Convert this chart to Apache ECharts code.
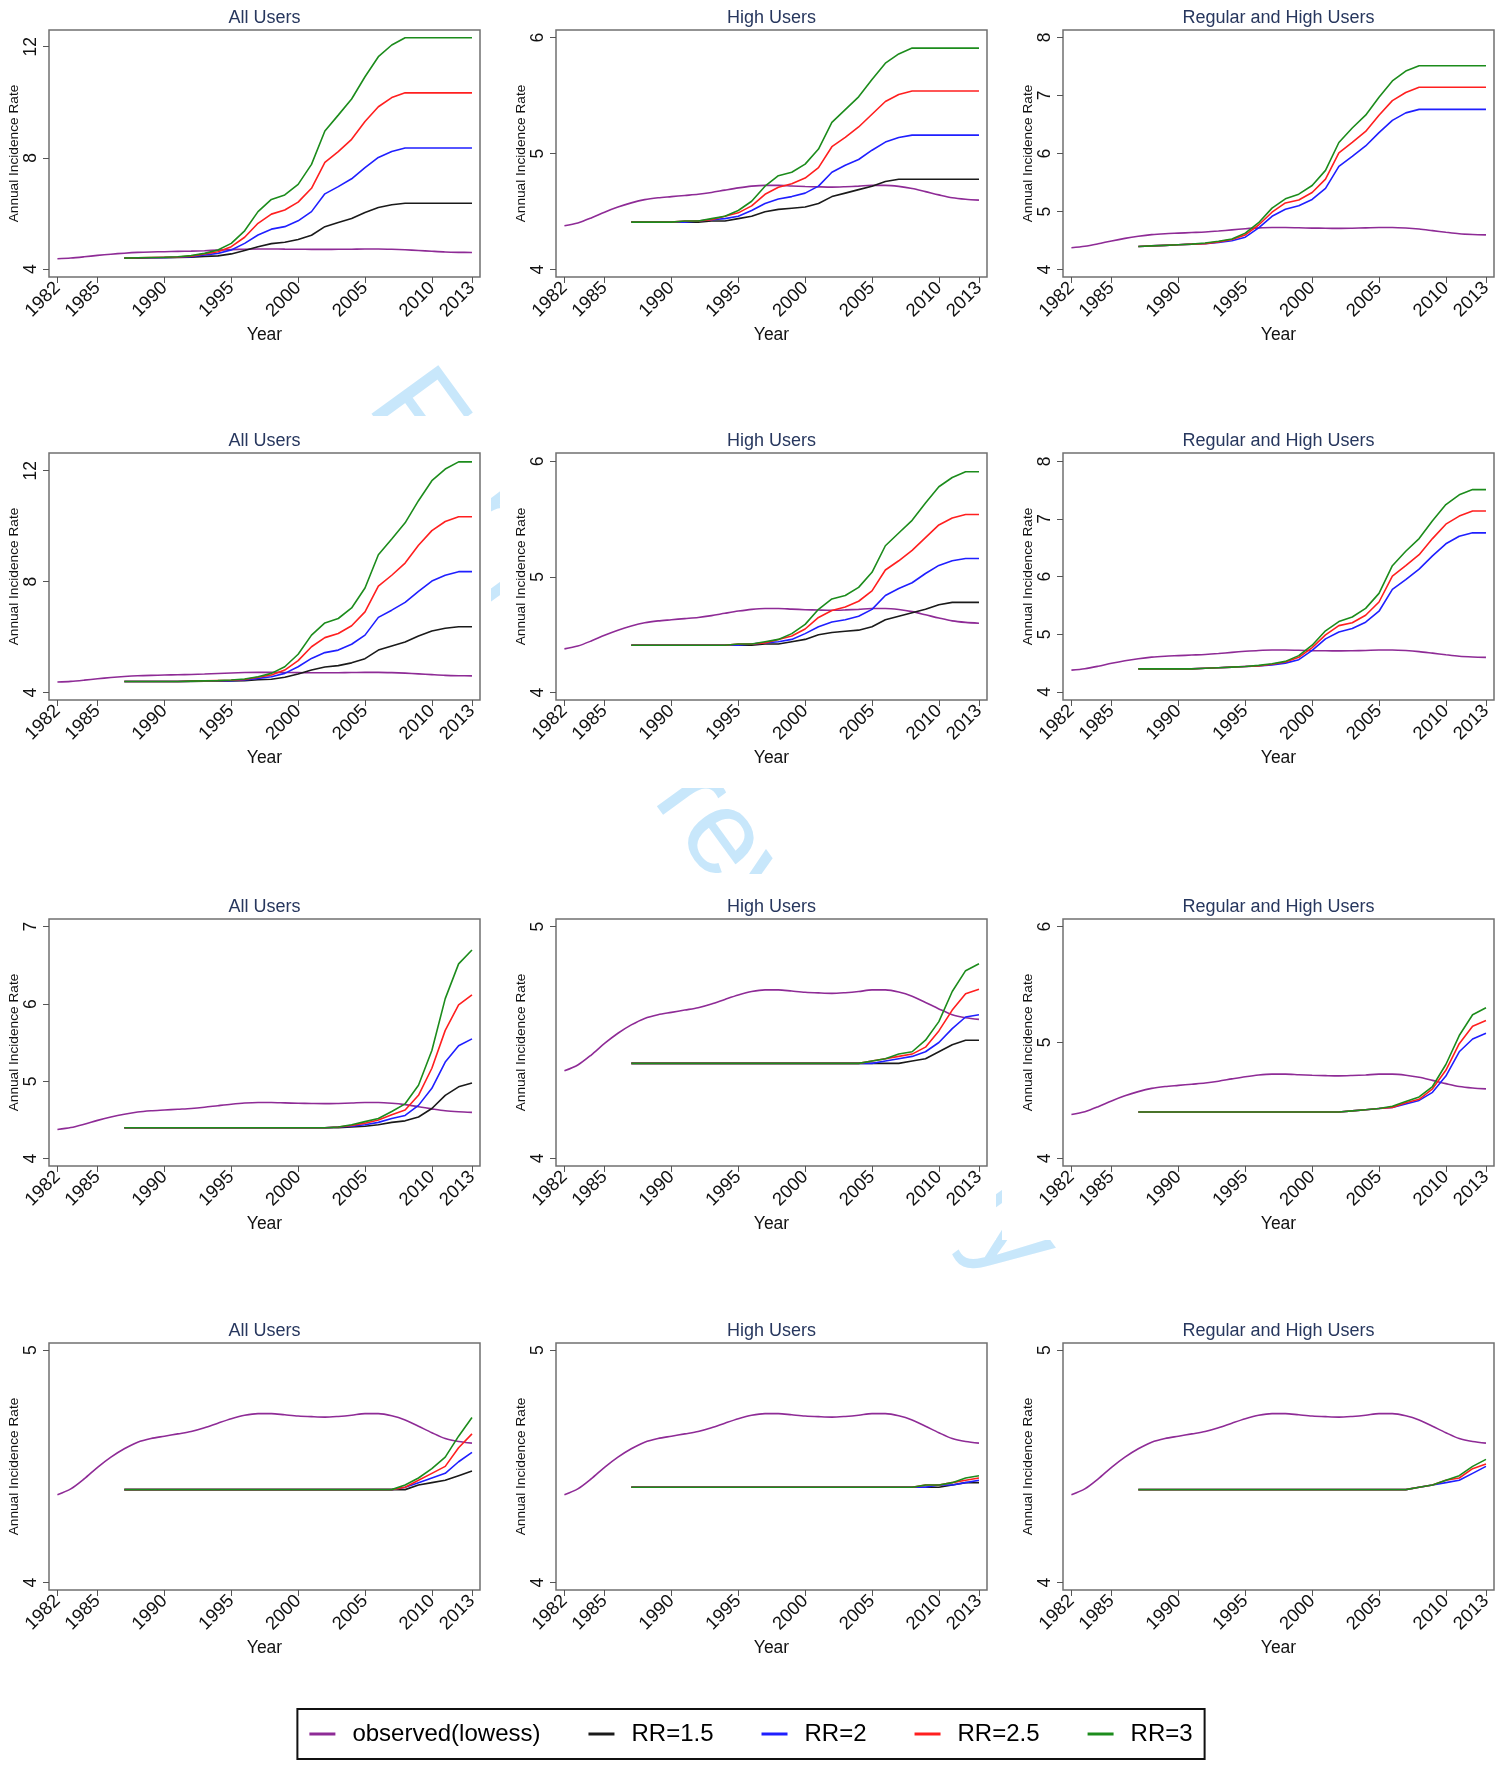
<!DOCTYPE html>
<html>
<head>
<meta charset="utf-8">
<script src="https://cdn.jsdelivr.net/npm/echarts@6/dist/echarts.min.js"></script>
<style>
  html, body { margin: 0; padding: 0; background: #fff; }
  #chart { width: 1502px; height: 1765px; }
</style>
</head>
<body>
<div id="chart"></div>
<script>
// years
const obsYears = [1982,1983,1984,1985,1986,1987,1988,1989,1990,1991,1992,1993,1994,1995,1996,1997,1998,1999,2000,2001,2002,2003,2004,2005,2006,2007,2008,2009,2010,2011,2012,2013];
const rrYears = [1987,1988,1989,1990,1991,1992,1993,1994,1995,1996,1997,1998,1999,2000,2001,2002,2003,2004,2005,2006,2007,2008,2009,2010,2011,2012,2013];
const xTickValues = [1982,1985,1990,1995,2000,2005,2010,2013];

// observed (lowess), same curve in every panel
const observed = [4.378,4.403,4.446,4.496,4.54,4.576,4.604,4.62,4.63,4.64,4.65,4.666,4.686,4.705,4.72,4.727,4.727,4.722,4.717,4.714,4.712,4.715,4.72,4.727,4.727,4.718,4.70,4.673,4.645,4.62,4.607,4.60];

// row 1
const r1All15 = [4.40,4.40,4.41,4.41,4.42,4.43,4.46,4.48,4.55,4.67,4.81,4.92,4.97,5.07,5.22,5.53,5.68,5.82,6.04,6.22,6.32,6.37,6.37,6.37,6.37,6.37,6.37];
const r1All2 = [4.40,4.41,4.41,4.42,4.43,4.45,4.51,4.57,4.69,4.93,5.23,5.44,5.53,5.74,6.07,6.71,6.97,7.25,7.65,8.02,8.23,8.36,8.36,8.36,8.36,8.36,8.36];
const r1All25 = [4.40,4.41,4.42,4.43,4.44,4.47,4.55,4.63,4.81,5.15,5.65,5.98,6.13,6.41,6.91,7.84,8.23,8.67,9.31,9.84,10.17,10.34,10.34,10.34,10.34,10.34,10.34];
const r1All3 = [4.40,4.41,4.42,4.43,4.45,4.49,4.57,4.69,4.93,5.38,6.07,6.51,6.67,7.05,7.77,8.97,9.54,10.12,10.92,11.64,12.06,12.32,12.32,12.32,12.32,12.32,12.32];
const r1High15 = [4.41,4.41,4.41,4.41,4.41,4.41,4.42,4.42,4.44,4.46,4.50,4.52,4.53,4.54,4.57,4.63,4.66,4.69,4.72,4.76,4.78,4.78,4.78,4.78,4.78,4.78,4.78];
const r1High2 = [4.41,4.41,4.41,4.41,4.41,4.42,4.43,4.44,4.46,4.51,4.57,4.61,4.63,4.66,4.72,4.84,4.90,4.95,5.03,5.10,5.14,5.16,5.16,5.16,5.16,5.16,5.16];
const r1High25 = [4.41,4.41,4.41,4.41,4.42,4.42,4.43,4.46,4.49,4.55,4.65,4.71,4.74,4.79,4.88,5.06,5.14,5.23,5.34,5.45,5.51,5.54,5.54,5.54,5.54,5.54,5.54];
const r1High3 = [4.41,4.41,4.41,4.41,4.42,4.42,4.44,4.46,4.51,4.59,4.72,4.81,4.84,4.91,5.04,5.27,5.38,5.49,5.64,5.78,5.86,5.91,5.91,5.91,5.91,5.91,5.91];
const r1Reg2 = [4.40,4.41,4.42,4.43,4.44,4.45,4.47,4.50,4.56,4.72,4.92,5.04,5.10,5.21,5.40,5.78,5.95,6.13,6.36,6.57,6.70,6.76,6.76,6.76,6.76,6.76,6.76];
const r1Reg25 = [4.40,4.41,4.42,4.43,4.44,4.45,4.48,4.52,4.60,4.77,4.99,5.15,5.20,5.33,5.56,6.01,6.19,6.38,6.66,6.91,7.05,7.14,7.14,7.14,7.14,7.14,7.14];
const r1Reg3 = [4.40,4.41,4.42,4.43,4.44,4.46,4.49,4.53,4.63,4.81,5.06,5.22,5.30,5.45,5.71,6.19,6.44,6.66,6.97,7.25,7.42,7.51,7.51,7.51,7.51,7.51,7.51];

// row 2
const r2All15 = [4.40,4.40,4.40,4.40,4.40,4.40,4.41,4.41,4.42,4.43,4.46,4.48,4.55,4.67,4.81,4.92,4.97,5.07,5.22,5.53,5.68,5.82,6.04,6.22,6.32,6.37,6.37];
const r2All2 = [4.40,4.40,4.40,4.40,4.40,4.41,4.41,4.42,4.43,4.45,4.51,4.57,4.69,4.93,5.23,5.44,5.53,5.74,6.07,6.71,6.97,7.25,7.65,8.02,8.23,8.36,8.36];
const r2All25 = [4.40,4.40,4.40,4.40,4.40,4.41,4.42,4.43,4.44,4.47,4.55,4.63,4.81,5.15,5.65,5.98,6.13,6.41,6.91,7.84,8.23,8.67,9.31,9.84,10.17,10.34,10.34];
const r2All3 = [4.40,4.40,4.40,4.40,4.40,4.41,4.42,4.43,4.45,4.49,4.57,4.69,4.93,5.38,6.07,6.51,6.67,7.05,7.77,8.97,9.54,10.12,10.92,11.64,12.06,12.32,12.32];
const r2High15 = [4.41,4.41,4.41,4.41,4.41,4.41,4.41,4.41,4.41,4.41,4.42,4.42,4.44,4.46,4.50,4.52,4.53,4.54,4.57,4.63,4.66,4.69,4.72,4.76,4.78,4.78,4.78];
const r2High2 = [4.41,4.41,4.41,4.41,4.41,4.41,4.41,4.41,4.41,4.42,4.43,4.44,4.46,4.51,4.57,4.61,4.63,4.66,4.72,4.84,4.90,4.95,5.03,5.10,5.14,5.16,5.16];
const r2High25 = [4.41,4.41,4.41,4.41,4.41,4.41,4.41,4.41,4.42,4.42,4.43,4.46,4.49,4.55,4.65,4.71,4.74,4.79,4.88,5.06,5.14,5.23,5.34,5.45,5.51,5.54,5.54];
const r2High3 = [4.41,4.41,4.41,4.41,4.41,4.41,4.41,4.41,4.42,4.42,4.44,4.46,4.51,4.59,4.72,4.81,4.84,4.91,5.04,5.27,5.38,5.49,5.64,5.78,5.86,5.91,5.91];
const r2Reg2 = [4.40,4.40,4.40,4.40,4.40,4.41,4.42,4.43,4.44,4.45,4.47,4.50,4.56,4.72,4.92,5.04,5.10,5.21,5.40,5.78,5.95,6.13,6.36,6.57,6.70,6.76,6.76];
const r2Reg25 = [4.40,4.40,4.40,4.40,4.40,4.41,4.42,4.43,4.44,4.45,4.48,4.52,4.60,4.77,4.99,5.15,5.20,5.33,5.56,6.01,6.19,6.38,6.66,6.91,7.05,7.14,7.14];
const r2Reg3 = [4.40,4.40,4.40,4.40,4.40,4.41,4.42,4.43,4.44,4.46,4.49,4.53,4.63,4.81,5.06,5.22,5.30,5.45,5.71,6.19,6.44,6.66,6.97,7.25,7.42,7.51,7.51];

// row 3
const r3All15 = [4.4,4.4,4.4,4.4,4.4,4.4,4.4,4.4,4.4,4.4,4.4,4.4,4.4,4.4,4.4,4.4,4.4,4.41,4.42,4.44,4.47,4.49,4.54,4.65,4.82,4.93,4.98];
const r3All2 = [4.4,4.4,4.4,4.4,4.4,4.4,4.4,4.4,4.4,4.4,4.4,4.4,4.4,4.4,4.4,4.4,4.41,4.42,4.44,4.47,4.52,4.56,4.69,4.91,5.25,5.46,5.55];
const r3All25 = [4.4,4.4,4.4,4.4,4.4,4.4,4.4,4.4,4.4,4.4,4.4,4.4,4.4,4.4,4.4,4.4,4.41,4.43,4.46,4.50,4.57,4.63,4.82,5.17,5.66,5.99,6.12];
const r3All3 = [4.4,4.4,4.4,4.4,4.4,4.4,4.4,4.4,4.4,4.4,4.4,4.4,4.4,4.4,4.4,4.4,4.41,4.44,4.48,4.52,4.61,4.71,4.95,5.40,6.07,6.52,6.70];
const r3High15 = [4.41,4.41,4.41,4.41,4.41,4.41,4.41,4.41,4.41,4.41,4.41,4.41,4.41,4.41,4.41,4.41,4.41,4.41,4.41,4.41,4.41,4.42,4.43,4.46,4.49,4.51,4.51];
const r3High2 = [4.41,4.41,4.41,4.41,4.41,4.41,4.41,4.41,4.41,4.41,4.41,4.41,4.41,4.41,4.41,4.41,4.41,4.41,4.41,4.42,4.43,4.44,4.46,4.50,4.56,4.61,4.62];
const r3High25 = [4.41,4.41,4.41,4.41,4.41,4.41,4.41,4.41,4.41,4.41,4.41,4.41,4.41,4.41,4.41,4.41,4.41,4.41,4.42,4.43,4.44,4.45,4.48,4.55,4.64,4.71,4.73];
const r3High3 = [4.41,4.41,4.41,4.41,4.41,4.41,4.41,4.41,4.41,4.41,4.41,4.41,4.41,4.41,4.41,4.41,4.41,4.41,4.42,4.43,4.45,4.46,4.51,4.59,4.72,4.81,4.84];
const r3Reg2 = [4.4,4.4,4.4,4.4,4.4,4.4,4.4,4.4,4.4,4.4,4.4,4.4,4.4,4.4,4.4,4.4,4.41,4.42,4.43,4.44,4.47,4.50,4.57,4.71,4.92,5.03,5.08];
const r3Reg25 = [4.4,4.4,4.4,4.4,4.4,4.4,4.4,4.4,4.4,4.4,4.4,4.4,4.4,4.4,4.4,4.4,4.41,4.42,4.43,4.44,4.48,4.51,4.60,4.76,4.99,5.14,5.19];
const r3Reg3 = [4.4,4.4,4.4,4.4,4.4,4.4,4.4,4.4,4.4,4.4,4.4,4.4,4.4,4.4,4.4,4.4,4.41,4.42,4.43,4.45,4.49,4.53,4.62,4.81,5.06,5.24,5.30];

// row 4
const r4All15 = [4.4,4.4,4.4,4.4,4.4,4.4,4.4,4.4,4.4,4.4,4.4,4.4,4.4,4.4,4.4,4.4,4.4,4.4,4.4,4.4,4.4,4.40,4.42,4.43,4.44,4.46,4.48];
const r4All2 = [4.4,4.4,4.4,4.4,4.4,4.4,4.4,4.4,4.4,4.4,4.4,4.4,4.4,4.4,4.4,4.4,4.4,4.4,4.4,4.4,4.4,4.41,4.43,4.45,4.47,4.52,4.56];
const r4All25 = [4.4,4.4,4.4,4.4,4.4,4.4,4.4,4.4,4.4,4.4,4.4,4.4,4.4,4.4,4.4,4.4,4.4,4.4,4.4,4.4,4.4,4.41,4.44,4.47,4.50,4.58,4.64];
const r4All3 = [4.4,4.4,4.4,4.4,4.4,4.4,4.4,4.4,4.4,4.4,4.4,4.4,4.4,4.4,4.4,4.4,4.4,4.4,4.4,4.4,4.4,4.42,4.45,4.49,4.54,4.63,4.71];
const r4High15 = [4.41,4.41,4.41,4.41,4.41,4.41,4.41,4.41,4.41,4.41,4.41,4.41,4.41,4.41,4.41,4.41,4.41,4.41,4.41,4.41,4.41,4.41,4.41,4.41,4.42,4.43,4.43];
const r4High2 = [4.41,4.41,4.41,4.41,4.41,4.41,4.41,4.41,4.41,4.41,4.41,4.41,4.41,4.41,4.41,4.41,4.41,4.41,4.41,4.41,4.41,4.41,4.41,4.42,4.42,4.43,4.44];
const r4High25 = [4.41,4.41,4.41,4.41,4.41,4.41,4.41,4.41,4.41,4.41,4.41,4.41,4.41,4.41,4.41,4.41,4.41,4.41,4.41,4.41,4.41,4.41,4.42,4.42,4.43,4.44,4.45];
const r4High3 = [4.41,4.41,4.41,4.41,4.41,4.41,4.41,4.41,4.41,4.41,4.41,4.41,4.41,4.41,4.41,4.41,4.41,4.41,4.41,4.41,4.41,4.41,4.42,4.42,4.43,4.45,4.46];
const r4Reg2 = [4.4,4.4,4.4,4.4,4.4,4.4,4.4,4.4,4.4,4.4,4.4,4.4,4.4,4.4,4.4,4.4,4.4,4.4,4.4,4.4,4.4,4.41,4.42,4.43,4.44,4.47,4.50];
const r4Reg25 = [4.4,4.4,4.4,4.4,4.4,4.4,4.4,4.4,4.4,4.4,4.4,4.4,4.4,4.4,4.4,4.4,4.4,4.4,4.4,4.4,4.4,4.41,4.42,4.44,4.45,4.49,4.51];
const r4Reg3 = [4.4,4.4,4.4,4.4,4.4,4.4,4.4,4.4,4.4,4.4,4.4,4.4,4.4,4.4,4.4,4.4,4.4,4.4,4.4,4.4,4.4,4.41,4.42,4.44,4.46,4.50,4.53];

const panelTitles = ['All Users', 'High Users', 'Regular and High Users'];
const rrNames = ['RR=1.5', 'RR=2', 'RR=2.5', 'RR=3'];
const rrColors = ['#1a1a1a', '#1f1fff', '#ff1f1f', '#1c8c1c'];
const obsColor = '#8e2b96';

// [row][col] -> [RR=1.5, RR=2, RR=2.5, RR=3]
const panelData = [
  [[r1All15, r1All2, r1All25, r1All3], [r1High15, r1High2, r1High25, r1High3], [null, r1Reg2, r1Reg25, r1Reg3]],
  [[r2All15, r2All2, r2All25, r2All3], [r2High15, r2High2, r2High25, r2High3], [null, r2Reg2, r2Reg25, r2Reg3]],
  [[r3All15, r3All2, r3All25, r3All3], [r3High15, r3High2, r3High25, r3High3], [null, r3Reg2, r3Reg25, r3Reg3]],
  [[r4All15, r4All2, r4All25, r4All3], [r4High15, r4High2, r4High25, r4High3], [null, r4Reg2, r4Reg25, r4Reg3]]
];
const yRanges = [
  [[3.72, 12.6], [3.937, 6.066], [3.875, 8.126]],
  [[3.73, 12.64], [3.936, 6.072], [3.86, 8.145]],
  [[3.906, 7.1], [3.967, 5.033], [3.934, 6.066]],
  [[3.968, 5.031], [3.968, 5.031], [3.968, 5.031]]
];
const yTicks = [
  [[4, 8, 12], [4, 5, 6], [4, 5, 6, 7, 8]],
  [[4, 8, 12], [4, 5, 6], [4, 5, 6, 7, 8]],
  [[4, 5, 6, 7], [4, 5], [4, 5, 6]],
  [[4, 5], [4, 5], [4, 5]]
];

const fontFamily = '"Liberation Sans", Arial, sans-serif';
const colLeft = [49, 556, 1063];
const rowTop = [30, 453, 919, 1343];
const plotW = 431;
const plotH = 247;

const chart = echarts.init(document.getElementById('chart'));

const grids = [];
const xAxes = [];
const yAxes = [];
const titles = [];
const series = [];

for (let r = 0; r < 4; r++) {
  for (let c = 0; c < 3; c++) {
    const idx = r * 3 + c;
    grids.push({
      left: colLeft[c],
      top: rowTop[r],
      width: plotW,
      height: plotH,
      show: true,
      borderColor: '#707070',
      borderWidth: 1.5,
      backgroundColor: 'transparent'
    });
    titles.push({
      text: panelTitles[c],
      left: colLeft[c] + plotW / 2,
      top: rowTop[r] - 21,
      textAlign: 'center',
      padding: 0,
      textStyle: { fontSize: 18, fontWeight: 'normal', color: '#27375e', fontFamily }
    });
    xAxes.push({
      type: 'value',
      gridIndex: idx,
      min: 1981.37,
      max: 2013.6,
      name: 'Year',
      nameLocation: 'middle',
      nameGap: 49,
      nameTextStyle: { fontSize: 17.5, color: '#111', fontFamily },
      axisLine: { show: false },
      splitLine: { show: false },
      axisTick: { show: true, length: 6, customValues: xTickValues, lineStyle: { color: '#555' } },
      axisLabel: {
        customValues: xTickValues,
        rotate: 45,
        margin: 8,
        fontSize: 18.5,
        color: '#111',
        fontFamily,
        formatter: v => String(v)
      }
    });
    yAxes.push({
      type: 'value',
      gridIndex: idx,
      min: yRanges[r][c][0],
      max: yRanges[r][c][1],
      name: 'Annual Incidence Rate',
      nameLocation: 'middle',
      nameGap: 27,
      nameTextStyle: { fontSize: 13.7, color: '#111', fontFamily },
      axisLine: { show: false },
      splitLine: { show: false },
      axisTick: { show: true, length: 6, customValues: yTicks[r][c], lineStyle: { color: '#555' } },
      axisLabel: {
        customValues: yTicks[r][c],
        rotate: 90,
        margin: 9,
        fontSize: 17.5,
        color: '#111',
        fontFamily,
        formatter: v => String(v)
      }
    });
    series.push({
      name: 'observed(lowess)',
      type: 'line',
      xAxisIndex: idx,
      yAxisIndex: idx,
      data: obsYears.map((y, i) => [y, observed[i]]),
      showSymbol: false,
      symbol: 'none',
      smooth: 0.3,
      lineStyle: { color: obsColor, width: 1.6 },
      itemStyle: { color: obsColor }
    });
    panelData[r][c].forEach((vals, k) => {
      if (!vals) return;
      series.push({
        name: rrNames[k],
        type: 'line',
        xAxisIndex: idx,
        yAxisIndex: idx,
        data: rrYears.map((y, i) => [y, vals[i]]),
        showSymbol: false,
        symbol: 'none',
        lineStyle: { color: rrColors[k], width: 1.6 },
        itemStyle: { color: rrColors[k] }
      });
    });
  }
}

// faint watermark behind the panels, panels themselves are white cards
const panelCards = [
  [0, 0, 491, 360], [500, 0, 496, 360], [1002, 0, 500, 360],
  [0, 416, 491, 372], [500, 416, 496, 372], [1002, 416, 500, 372],
  [0, 874, 491, 366], [500, 874, 496, 366], [1002, 874, 500, 366],
  [0, 1296, 491, 394], [500, 1296, 496, 394], [1002, 1296, 500, 394]
];
const graphics = [{
  type: 'text',
  x: 712,
  y: 826,
  rotation: -54 * Math.PI / 180,
  z: -10,
  silent: true,
  style: {
    text: 'For peer review only',
    fontSize: 120,
    fontFamily,
    fill: '#c8e7fb',
    textAlign: 'center',
    textVerticalAlign: 'middle'
  }
}];
panelCards.forEach(p => {
  graphics.push({
    type: 'rect',
    z: -5,
    silent: true,
    shape: { x: p[0], y: p[1], width: p[2], height: p[3] },
    style: { fill: '#fff' }
  });
});

const option = {
  backgroundColor: '#fff',
  animation: false,
  title: titles,
  grid: grids,
  xAxis: xAxes,
  yAxis: yAxes,
  graphic: graphics,
  legend: {
    data: ['observed(lowess)', 'RR=1.5', 'RR=2', 'RR=2.5', 'RR=3'],
    left: 'center',
    top: 1709,
    icon: 'rect',
    itemWidth: 26,
    itemHeight: 3,
    itemGap: 48,
    padding: [13, 12, 13, 12],
    borderColor: '#111',
    borderWidth: 2,
    textStyle: { fontSize: 24, color: '#000', fontFamily, padding: [0, 0, 0, 12] }
  },
  series: series
};

chart.setOption(option);
</script>
</body>
</html>
